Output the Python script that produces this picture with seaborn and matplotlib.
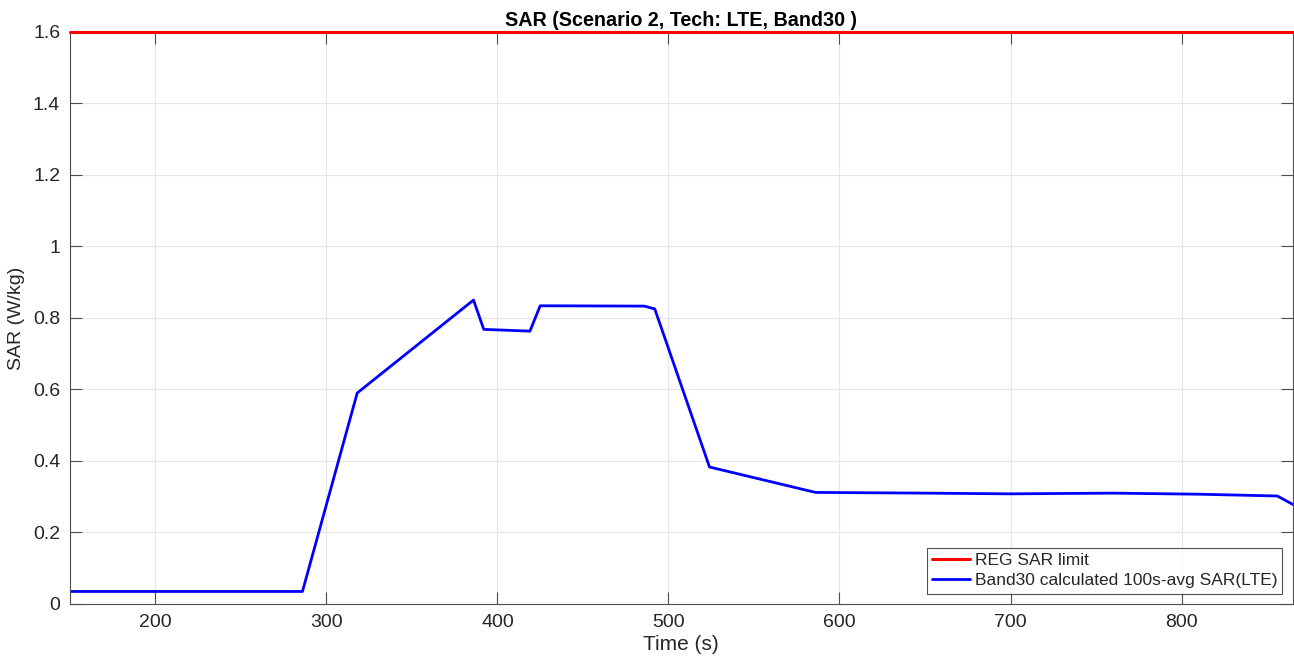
import numpy as np
import pandas as pd
import seaborn as sns
import matplotlib
matplotlib.use('Agg')
import matplotlib.pyplot as plt

# values
time_s = [150, 286, 318, 386, 392, 419, 425, 486, 492, 524, 586, 650, 700, 760, 810, 856, 866]
sar = [0.035, 0.035, 0.59, 0.85, 0.768, 0.763, 0.834, 0.833, 0.825, 0.383, 0.312, 0.310,
       0.308, 0.310, 0.307, 0.302, 0.276]
limit_time = [150, 866]
limit_sar = [1.6, 1.6]

label_limit = 'REG SAR limit'
label_avg = 'Band30 calculated 100s-avg SAR(LTE)'

sns.set_style('whitegrid')
plt.rcParams['font.family'] = ['Liberation Sans', 'DejaVu Sans']

fig = plt.figure(figsize=(12.94, 6.64), dpi=100)
ax = fig.add_axes([0.054, 0.0904, 0.945, 0.8616])

sns.lineplot(x=limit_time, y=limit_sar, color='#ff0000', linewidth=2.2, label=label_limit, ax=ax, clip_on=False, zorder=5)
sns.lineplot(x=time_s, y=sar, color='#0000ff', linewidth=2.0, label=label_avg, ax=ax)

ax.set_xlim(150, 865)
ax.set_ylim(0, 1.6)
ax.set_xticks([200, 300, 400, 500, 600, 700, 800])
ax.set_yticks([0, 0.2, 0.4, 0.6, 0.8, 1.0, 1.2, 1.4, 1.6])
ax.set_yticklabels(['0', '0.2', '0.4', '0.6', '0.8', '1', '1.2', '1.4', '1.6'])
ax.grid(True, color='#e6e6e6', linewidth=0.8)
for s in ax.spines.values():
    s.set_color('#4d4d4d')
    s.set_linewidth(0.8)
ax.tick_params(direction='in', length=8.5, color='#4d4d4d', labelsize=14, labelcolor='#262626',
               top=True, right=True, bottom=True, left=True, pad=7)

ax.set_xlabel('Time (s)', fontsize=15, color='#262626', labelpad=3)
ax.set_ylabel('SAR (W/kg)', fontsize=14, color='#262626', labelpad=6)
ax.set_title('SAR (Scenario 2, Tech: LTE, Band30 )', fontsize=14.2, fontweight='bold', color='black', pad=4)

leg = ax.legend(loc='lower right', fontsize=12.5, frameon=True, fancybox=False,
                edgecolor='#262626', handlelength=2.2, borderpad=0.3, labelspacing=0.3,
                handletextpad=0.25, borderaxespad=0.6)
leg.get_frame().set_linewidth(0.8)

fig.savefig('out.png', dpi=100)
